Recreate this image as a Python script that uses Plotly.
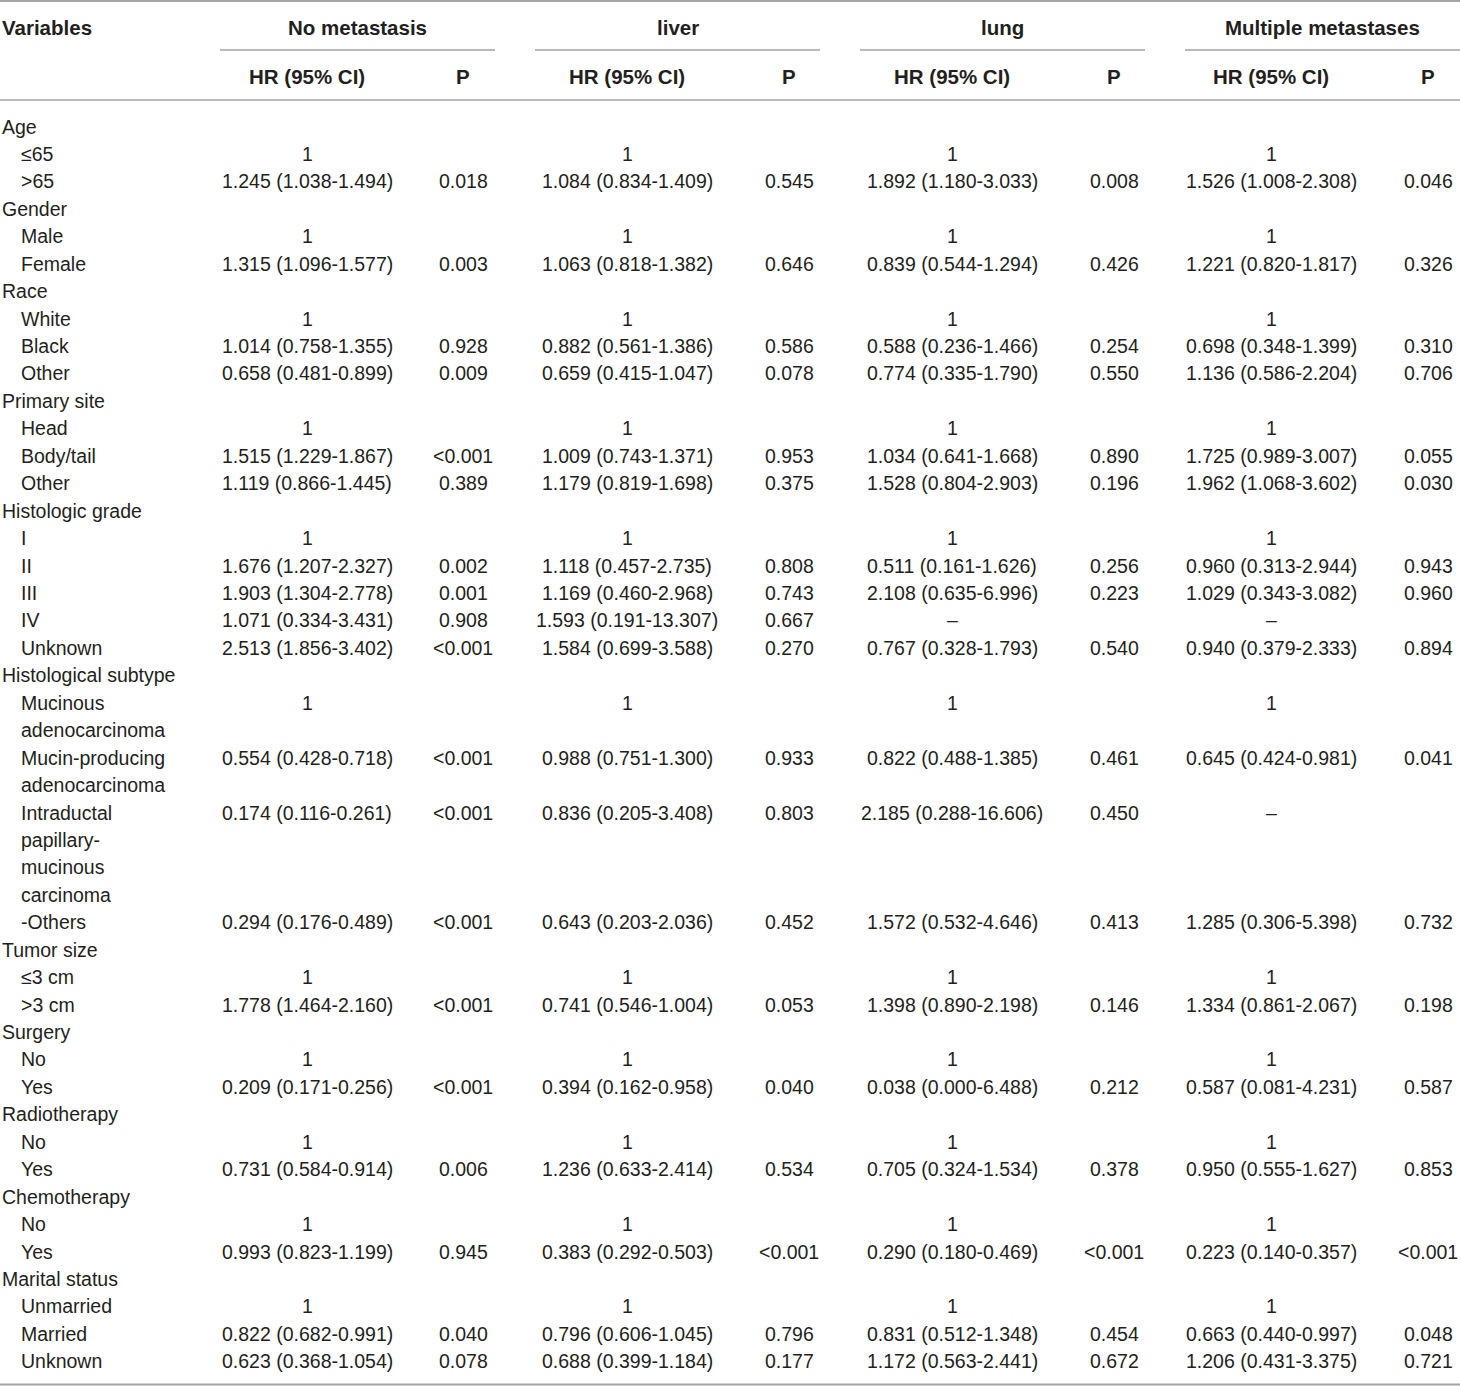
import plotly.graph_objects as go

# row labels of the table (level 0 = variable, level 1 = category)
row_labels = [
    "Age", "≤65", ">65",
    "Gender", "Male", "Female",
    "Race", "White", "Black", "Other",
    "Primary site", "Head", "Body/tail", "Other",
    "Histologic grade", "I", "II", "III", "IV", "Unknown",
    "Histological subtype", "Mucinous", "adenocarcinoma", "Mucin-producing",
    "adenocarcinoma", "Intraductal", "papillary-", "mucinous", "carcinoma", "-Others",
    "Tumor size", "≤3 cm", ">3 cm",
    "Surgery", "No", "Yes",
    "Radiotherapy", "No", "Yes",
    "Chemotherapy", "No", "Yes",
    "Marital status", "Unmarried", "Married", "Unknown",
]
row_level = [
    0, 1, 1,
    0, 1, 1,
    0, 1, 1, 1,
    0, 1, 1, 1,
    0, 1, 1, 1, 1, 1,
    0, 1, 1, 1, 1, 1, 1, 1, 1, 1,
    0, 1, 1,
    0, 1, 1,
    0, 1, 1,
    0, 1, 1,
    0, 1, 1, 1,
]

# which label rows carry values
value_rows = [1, 2, 4, 5, 7, 8, 9, 11, 12, 13, 15, 16, 17, 18, 19,
              21, 23, 25, 29, 31, 32, 34, 35, 37, 38, 40, 41, 43, 44, 45]

groups = ["No metastasis", "liver", "lung", "Multiple metastases"]

no_met_hr = [
    "1", "1.245 (1.038-1.494)", "1", "1.315 (1.096-1.577)", "1",
    "1.014 (0.758-1.355)", "0.658 (0.481-0.899)", "1", "1.515 (1.229-1.867)",
    "1.119 (0.866-1.445)", "1", "1.676 (1.207-2.327)", "1.903 (1.304-2.778)",
    "1.071 (0.334-3.431)", "2.513 (1.856-3.402)", "1", "0.554 (0.428-0.718)",
    "0.174 (0.116-0.261)", "0.294 (0.176-0.489)", "1", "1.778 (1.464-2.160)",
    "1", "0.209 (0.171-0.256)", "1", "0.731 (0.584-0.914)", "1",
    "0.993 (0.823-1.199)", "1", "0.822 (0.682-0.991)", "0.623 (0.368-1.054)",
]
no_met_p = [
    "", "0.018", "", "0.003", "", "0.928", "0.009", "", "<0.001", "0.389",
    "", "0.002", "0.001", "0.908", "<0.001", "", "<0.001", "<0.001", "<0.001",
    "", "<0.001", "", "<0.001", "", "0.006", "", "0.945", "", "0.040", "0.078",
]

liver_hr = [
    "1", "1.084 (0.834-1.409)", "1", "1.063 (0.818-1.382)", "1",
    "0.882 (0.561-1.386)", "0.659 (0.415-1.047)", "1", "1.009 (0.743-1.371)",
    "1.179 (0.819-1.698)", "1", "1.118 (0.457-2.735)", "1.169 (0.460-2.968)",
    "1.593 (0.191-13.307)", "1.584 (0.699-3.588)", "1", "0.988 (0.751-1.300)",
    "0.836 (0.205-3.408)", "0.643 (0.203-2.036)", "1", "0.741 (0.546-1.004)",
    "1", "0.394 (0.162-0.958)", "1", "1.236 (0.633-2.414)", "1",
    "0.383 (0.292-0.503)", "1", "0.796 (0.606-1.045)", "0.688 (0.399-1.184)",
]
liver_p = [
    "", "0.545", "", "0.646", "", "0.586", "0.078", "", "0.953", "0.375",
    "", "0.808", "0.743", "0.667", "0.270", "", "0.933", "0.803", "0.452",
    "", "0.053", "", "0.040", "", "0.534", "", "<0.001", "", "0.796", "0.177",
]

lung_hr = [
    "1", "1.892 (1.180-3.033)", "1", "0.839 (0.544-1.294)", "1",
    "0.588 (0.236-1.466)", "0.774 (0.335-1.790)", "1", "1.034 (0.641-1.668)",
    "1.528 (0.804-2.903)", "1", "0.511 (0.161-1.626)", "2.108 (0.635-6.996)",
    "–", "0.767 (0.328-1.793)", "1", "0.822 (0.488-1.385)",
    "2.185 (0.288-16.606)", "1.572 (0.532-4.646)", "1", "1.398 (0.890-2.198)",
    "1", "0.038 (0.000-6.488)", "1", "0.705 (0.324-1.534)", "1",
    "0.290 (0.180-0.469)", "1", "0.831 (0.512-1.348)", "1.172 (0.563-2.441)",
]
lung_p = [
    "", "0.008", "", "0.426", "", "0.254", "0.550", "", "0.890", "0.196",
    "", "0.256", "0.223", "", "0.540", "", "0.461", "0.450", "0.413",
    "", "0.146", "", "0.212", "", "0.378", "", "<0.001", "", "0.454", "0.672",
]

multi_hr = [
    "1", "1.526 (1.008-2.308)", "1", "1.221 (0.820-1.817)", "1",
    "0.698 (0.348-1.399)", "1.136 (0.586-2.204)", "1", "1.725 (0.989-3.007)",
    "1.962 (1.068-3.602)", "1", "0.960 (0.313-2.944)", "1.029 (0.343-3.082)",
    "–", "0.940 (0.379-2.333)", "1", "0.645 (0.424-0.981)",
    "–", "1.285 (0.306-5.398)", "1", "1.334 (0.861-2.067)",
    "1", "0.587 (0.081-4.231)", "1", "0.950 (0.555-1.627)", "1",
    "0.223 (0.140-0.357)", "1", "0.663 (0.440-0.997)", "1.206 (0.431-3.375)",
]
multi_p = [
    "", "0.046", "", "0.326", "", "0.310", "0.706", "", "0.055", "0.030",
    "", "0.943", "0.960", "", "0.894", "", "0.041", "", "0.732",
    "", "0.198", "", "0.587", "", "0.853", "", "<0.001", "", "0.048", "0.721",
]

hr_cols = [no_met_hr, liver_hr, lung_hr, multi_hr]
p_cols = [no_met_p, liver_p, lung_p, multi_p]

# layout (pixel x positions, row-index y positions)
W, H = 1460, 1386
ROW0_PX, ROW_PX = 126.5, 27.44
hr_x = [307, 627, 952, 1271]
p_x = [463, 789, 1114, 1428]
span_x = [(220, 495), (535, 820), (860, 1145), (1185, 1460)]
TEXT = "#231f20"
LINE = "#a3a3a3"
FONT = "Liberation Sans, Arial, sans-serif"
FS = 19.5
FS_HEAD = 20.5


def px_to_row(py):
    return (py - ROW0_PX) / ROW_PX


annotations = []
shapes = []


def add_text(x, y, text, anchor="center", bold=False):
    annotations.append(dict(
        x=x, y=y, xref="x", yref="y", text=f"<b>{text}</b>" if bold else text,
        showarrow=False, xanchor=anchor, yanchor="middle",
        font=dict(family=FONT, size=FS_HEAD if bold else FS, color=TEXT),
    ))


# header
y_grp = px_to_row(27)
y_sub = px_to_row(76)
add_text(0, y_grp, "Variables", anchor="left", bold=True)
for g, (x0, x1), hx, pxx in zip(groups, span_x, hr_x, p_x):
    add_text((x0 + x1) / 2, y_grp, g, bold=True)
    add_text(hx, y_sub, "HR (95% CI)", bold=True)
    add_text(pxx, y_sub, "P", bold=True)
    shapes.append(dict(type="line", xref="x", yref="y", x0=x0, x1=x1,
                       y0=px_to_row(50), y1=px_to_row(50),
                       line=dict(color=LINE, width=1.5)))

for py, w in [(1, 2), (100, 1.5), (1384.5, 2)]:
    shapes.append(dict(type="line", xref="x", yref="y", x0=0, x1=W,
                       y0=px_to_row(py), y1=px_to_row(py),
                       line=dict(color=LINE, width=w)))

# body
for i, (lab, lvl) in enumerate(zip(row_labels, row_level)):
    add_text(0 if lvl == 0 else 19, i, lab, anchor="left")

for col_hr, col_p, hx, pxx in zip(hr_cols, p_cols, hr_x, p_x):
    for r, hr, p in zip(value_rows, col_hr, col_p):
        if hr:
            add_text(hx, r, hr)
        if p:
            add_text(pxx, r, p)

fig = go.Figure()
fig.update_layout(
    width=W, height=H,
    margin=dict(l=0, r=0, t=0, b=0),
    paper_bgcolor="white", plot_bgcolor="white",
    xaxis=dict(range=[0, W], visible=False, fixedrange=True),
    yaxis=dict(range=[px_to_row(H), px_to_row(0)], visible=False, fixedrange=True),
    annotations=annotations,
    shapes=shapes,
    showlegend=False,
)

fig.write_html("out.html", config={"displayModeBar": False},
               post_script="document.body.style.margin='0';")
